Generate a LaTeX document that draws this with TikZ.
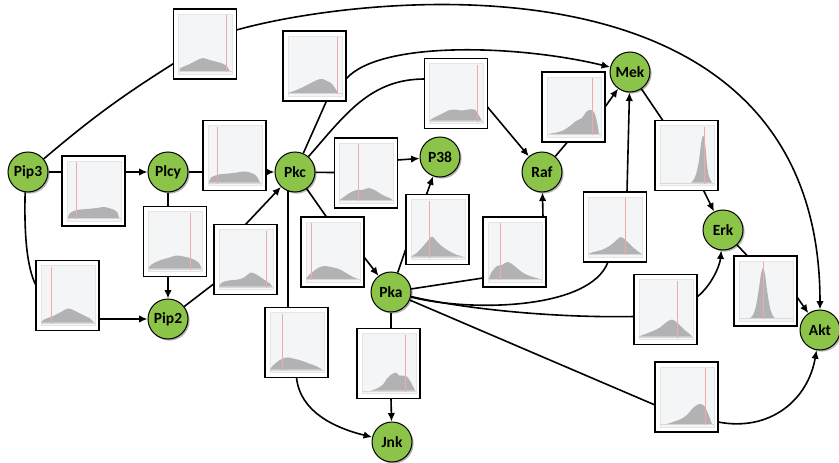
\documentclass[tikz,border=0pt]{standalone}
\usepackage{fontspec}
\setmainfont{Carlito}
\usetikzlibrary{arrows.meta,shadows}
\definecolor{nodegreen}{RGB}{140,196,74}
\definecolor{panelc}{RGB}{244,245,247}
\definecolor{histc}{RGB}{178,178,180}
\definecolor{redc}{RGB}{240,170,170}
\tikzset{
 gn/.style={circle, draw=black, line width=1pt, fill=nodegreen, minimum size=40pt, inner sep=0pt,
   font=\bfseries\fontsize{15.5}{15.5}\selectfont,
   drop shadow={shadow xshift=1.6pt, shadow yshift=-1.6pt, fill=black!50, opacity=0.6}},
 hbox/.style={draw=black, line width=1.9pt, fill=white, minimum width=63pt, minimum height=70pt, inner sep=0pt, outer sep=0pt},
 con/.style={line width=1.6pt},
 arr/.style={con, -{Latex[length=8.5pt,width=7.5pt]}},
}
\newcommand\histbox[4]{%
 \node[hbox] (#1) at (#2) {};
 \begin{scope}[shift={(#1.north west)}]
  \fill[panelc] (5,5) rectangle (59,65);
  \draw[black!10, line width=0.4pt] (5,5) rectangle (59,65);
  \begin{scope}
   \clip (5,5) rectangle (59,62);
   \begin{scope}[shift={(0,62)}, yscale=-1]
    \fill[histc] plot[smooth, tension=0.55] coordinates {#4} -- cycle;
   \end{scope}
  \end{scope}
  \draw[black!15, line width=0.8pt] (5,62.6) -- (59,62.6);
  \draw[redc, line width=0.45pt] (#3,6) -- (#3,63);
 \end{scope}}
\begin{document}
\begin{tikzpicture}[x=1pt,y=-1pt]
\useasboundingbox (0,0) rectangle (839,463);
% nodes
\node[gn] (pip3) at (28,172) {Pip3};
\node[gn] (plcy) at (168,172) {Plcy};
\node[gn] (pkc) at (295,172) {Pkc};
\node[gn] (p38) at (440,157) {P38};
\node[gn] (raf) at (542,172) {Raf};
\node[gn] (mek) at (630,72) {Mek};
\node[gn] (erk) at (723,230) {Erk};
\node[gn] (akt) at (820,330) {Akt};
\node[gn] (pip2) at (168,319) {Pip2};
\node[gn] (pka) at (391,292) {Pka};
\node[gn] (jnk) at (392,442) {Jnk};
% histogram boxes
\histbox{b1}{205,44}{53}{(6,0)(7,3)(14,6)(22,10)(29,13)(36,11)(44,9)(50,7)(54,4)(56,0)}
\histbox{b2}{93.5,191}{14}{(6,0)(8,5)(15,8)(25,9)(35,10)(42,11)(50,9)(55,6)(57,0)}
\histbox{b3}{234.5,155.5}{14}{(6,0)(8,5)(16,8)(26,9)(34,10)(40,11)(47,10)(53,7)(57,0)}
\histbox{b4}{175,241.5}{47}{(5,0)(8,4)(16,8)(26,11)(33,13)(40,12)(48,10)(55,6)(58,0)}
\histbox{b5}{245.5,259.5}{52}{(5,0)(8,4)(15,6)(24,7)(30,9)(37,14)(44,11)(50,7)(56,3)(58,0)}
\histbox{b6}{67.5,295.5}{15}{(5,0)(8,3)(16,6)(24,10)(32,14)(38,12)(46,8)(54,4)(58,0)}
\histbox{b7}{314.5,66}{54}{(5,0)(8,1)(16,4)(26,9)(34,13)(39,14)(44,12)(48,10)(52,5)(55,0)}
\histbox{b8}{456,93.5}{53}{(5,0)(8,2)(16,6)(24,10)(30,11)(37,10)(44,11)(50,11)(54,6)(57,0)}
\histbox{b9}{366,173}{24}{(5,0)(8,2)(15,7)(22,10)(28,10)(34,12)(40,10)(48,5)(55,2)(58,0)}
\histbox{b10}{332.5,252}{10}{(5,0)(8,4)(14,9)(19,12)(23,13)(30,12)(38,10)(45,6)(52,2)(57,0)}
\histbox{b11}{296.5,342.5}{17}{(5,0)(8,4)(14,9)(21,12)(28,11)(36,9)(44,6)(52,3)(57,0)}
\histbox{b12}{437.5,229.5}{23}{(5,0)(10,3)(16,9)(22,16)(26,20)(30,16)(35,11)(42,6)(50,2)(57,0)}
\histbox{b13}{514.5,252}{17}{(6,0)(8,6)(14,13)(19,14)(24,17)(29,15)(35,10)(42,5)(50,2)(57,0)}
\histbox{b14}{615,227}{42}{(5,0)(10,2)(18,4)(26,8)(32,13)(37,17)(42,14)(48,8)(54,3)(58,0)}
\histbox{b15}{686.5,155.5}{49}{(36,0)(38,2)(41,8)(44,22)(46,38)(48,47)(50,40)(52,18)(54,6)(57,0)}
\histbox{b16}{665.5,309.5}{43}{(5,0)(10,2)(18,5)(26,9)(32,14)(38,17)(44,13)(50,7)(55,3)(58,0)}
\histbox{b17}{765.5,291}{29}{(16,0)(19,3)(22,12)(25,30)(27,44)(29,50)(31,44)(33,28)(36,10)(39,2)(41,0)}
\histbox{b18}{686.5,397}{50}{(12,0)(18,2)(26,5)(32,9)(37,15)(42,19)(46,20)(50,17)(54,8)(57,0)}
\histbox{b19}{388.5,363.5}{48}{(14,0)(20,2)(26,6)(30,12)(33,15)(36,17)(39,18)(42,15)(46,15)(50,14)(54,8)(58,0)}
\histbox{b20}{573.5,107}{50}{(6,0)(12,1)(20,3)(28,8)(34,13)(40,16)(44,22)(48,24)(52,22)(55,12)(57,0)}
% connectors
\draw[con] (pip3) to[bend left=4] (b1);
\draw[arr] ([yshift=14pt]b1.east) .. controls (360,-5) and (820,-60) .. (akt.north);
\draw[con] (pip3) -- (b2.west |- pip3);
\draw[arr] (b2.east |- plcy) -- (plcy);
\draw[con] (pip3.262) .. controls (24,235) and (27,268) .. ([yshift=10pt]b6.west);
\draw[arr] (b6.east |- pip2) -- (pip2);
\draw[con] (plcy) -- (b3.west |- plcy);
\draw[arr] (b3.east |- pkc) -- (pkc);
\draw[con] (plcy) -- (plcy |- b4.north);
\draw[arr] (plcy |- b4.south) -- (pip2);
\draw[con] (pip2) -- (b5);
\draw[arr] (b5.north) -- (pkc);
\draw[con] (pkc) -- ([xshift=12pt]b7.south);
\draw[arr] ([yshift=-13pt]b7.east) .. controls (380,40) and (520,45) .. (mek);
\draw[con] (pkc) .. controls (345,115) and (370,79) .. ([yshift=14.5pt]b8.west);
\draw[arr] ([yshift=-13.5pt]b8.east) -- (raf);
\draw[con] (pkc) -- (b9);
\draw[arr] ([yshift=13pt]b9.east) -- (p38);
\draw[con] (pkc) -- ([xshift=-6pt]b10.north);
\draw[arr] ([yshift=-5pt]b10.east) -- (pka);
\draw[con] (pkc.250) -- (pkc.250 |- b11.north);
\draw[arr] (b11.south) .. controls (300,412) and (335,428) .. (jnk);
\draw[con] (pka) -- ([yshift=-19pt]b12.west);
\draw[arr] ([xshift=-11pt]b12.north) -- (p38);
\draw[con] (pka) -- ([yshift=-26pt]b13.west);
\draw[arr] ([xshift=28.5pt]b13.north) -- (raf);
\draw[con] (pka) .. controls (470,312) and (590,310) .. ([xshift=-7pt]b14.south);
\draw[arr] ([xshift=12pt]b14.north) -- (mek);
\draw[con] (pka) .. controls (470,310) and (560,318) .. ([yshift=-7pt]b16.west);
\draw[arr] ([yshift=12.5pt]b16.east) .. controls (712,285) and (720,265) .. (erk);
\draw[con] (pka) -- ([yshift=-8pt]b18.west);
\draw[arr] ([yshift=-25pt]b18.east) .. controls (770,432) and (808,400) .. (akt);
\draw[con] (pka) -- (pka |- b19.north);
\draw[arr] (pka |- b19.south) -- (jnk);
\draw[con] (raf) -- ([xshift=-6pt]b20.south);
\draw[arr] (b20.east) -- (mek);
\draw[con] (mek) -- (b15);
\draw[arr] (b15) -- (erk);
\draw[con] (erk) -- ([xshift=-18pt]b17.north);
\draw[arr] ([yshift=-6pt]b17.east) -- (akt);
\end{tikzpicture}
\end{document}
